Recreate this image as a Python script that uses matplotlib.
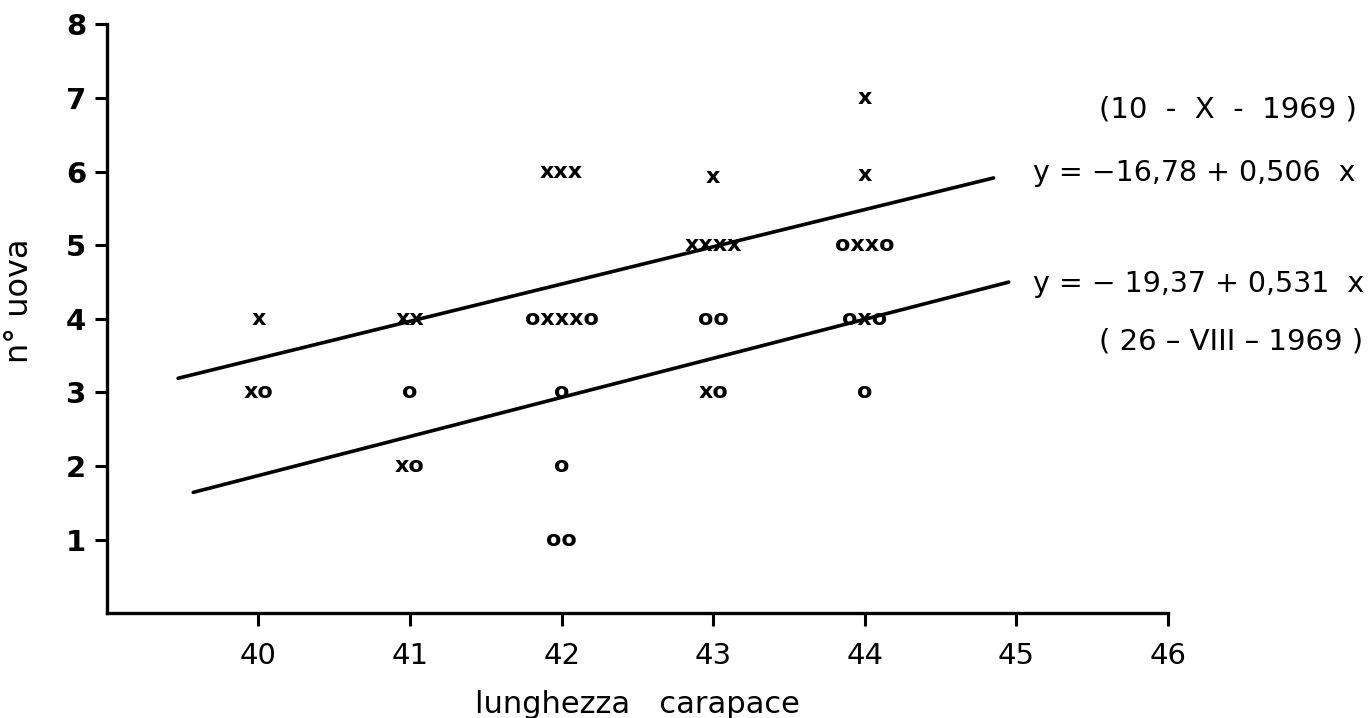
import numpy as np
import matplotlib.pyplot as plt

plt.rcParams['font.family'] = ['DejaVu Sans']

# gruppi di punti: lunghezza carapace, n. uova, simboli (x = 10-X-1969, o = 26-VIII-1969)
lung = [40, 40, 41, 41, 41, 42, 42, 42, 42, 42, 43, 43, 43, 43, 44, 44, 44, 44, 44]
uova = [4, 3, 4, 3, 2, 6, 4, 3, 2, 1, 5.93, 5, 4, 3, 7, 5.95, 5, 4, 3]
simb = ['x', 'xo', 'xx', 'o', 'xo', 'xxx', 'oxxxo', 'o', 'o', 'oo',
        'x', 'xxxx', 'oo', 'xo', 'x', 'x', 'oxxo', 'oxo', 'o']

# rette di regressione
a1, b1 = -16.78, 0.506
a2, b2 = -19.37, 0.531
x1 = np.array([39.47, 44.85])
x2 = np.array([39.57, 44.95])

xticks = [40, 41, 42, 43, 44, 45, 46]
yticks = [1, 2, 3, 4, 5, 6, 7, 8]

fig = plt.figure(figsize=(13.7, 7.18), dpi=100)
ax = fig.add_axes([0.078, 0.146, 0.7745, 0.82])

ax.plot(x1, a1 + b1 * x1, color='black', lw=2.6, solid_capstyle='round')
ax.plot(x2, a2 + b2 * x2, color='black', lw=2.6, solid_capstyle='round')

for xv, yv, s in zip(lung, uova, simb):
    ax.text(xv, yv, s, ha='center', va='center', fontsize=16, fontweight='bold',
            color='black')

ax.set_xlim(39, 46)
ax.set_ylim(0, 8)
ax.set_xticks(xticks)
ax.set_yticks(yticks)
ax.tick_params(axis='both', direction='out', length=9, width=2.2, labelsize=21, pad=6)
ax.tick_params(axis='x', pad=12)
for lab in ax.get_yticklabels():
    lab.set_fontweight('bold')
for sp in ['top', 'right']:
    ax.spines[sp].set_visible(False)
for sp in ['left', 'bottom']:
    ax.spines[sp].set_linewidth(2.4)

ax.set_xlabel('lunghezza   carapace', fontsize=22, labelpad=14)
ax.set_ylabel('n° uova', fontsize=23)
ax.yaxis.set_label_coords(-0.068, 0.53)

fig.text(0.802, 0.847, '(10  -  X  -  1969 )', fontsize=21, va='center')
fig.text(0.754, 0.759, 'y = −16,78 + 0,506  x', fontsize=20.5, va='center')
fig.text(0.754, 0.604, 'y = − 19,37 + 0,531  x', fontsize=20.5, va='center')
fig.text(0.802, 0.524, '( 26 – VIII – 1969 )', fontsize=21, va='center')

fig.savefig('out.png', dpi=100)
